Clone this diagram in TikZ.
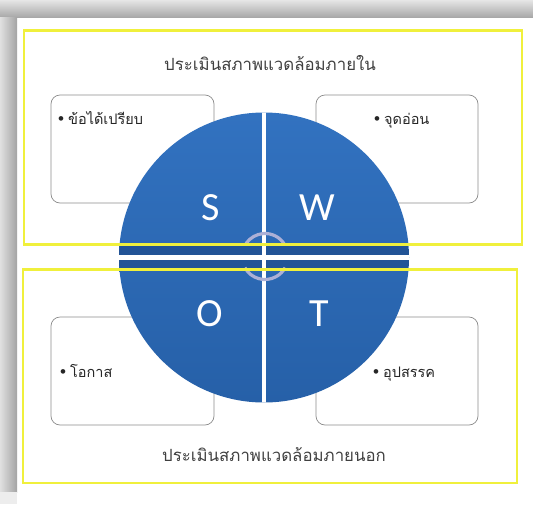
\documentclass[tikz,border=0pt]{standalone}
\usepackage{fontspec}
\setmainfont{Liberation Sans}
\newfontfamily\thaifont[Script=Thai]{Loma}
\newfontfamily\letfont{Carlito}
\newfontfamily\bulfont{Liberation Sans}
\definecolor{pietop}{RGB}{50,114,192}
\definecolor{piebot}{RGB}{38,96,168}
\definecolor{piedark}{RGB}{34,84,150}
\definecolor{frameyel}{RGB}{240,240,60}
\definecolor{ringcol}{RGB}{172,176,214}
\definecolor{boxgray}{RGB}{140,140,140}
\newcommand{\bulx}{{\bulfont\fontsize{17}{14}\selectfont\char"2022}\hspace{4pt}}
\begin{document}
\begin{tikzpicture}[x=1pt,y=-1pt,
  yelframe/.style={draw=frameyel,line width=2.6pt},
  txtbox/.style={draw=boxgray,line width=0.7pt,fill=white,rounded corners=9pt},
  ttl/.style={font=\thaifont\fontsize{16.8}{18}\selectfont,text=black!75,inner sep=0pt},
  itm/.style={font=\thaifont\fontsize{14.5}{16}\selectfont,text=black!85,inner sep=0pt},
  letr/.style={font=\letfont\fontsize{40}{44}\selectfont,text=white,inner sep=0pt}]
\useasboundingbox (0,0) rectangle (533,504);
% frame / shadow
\fill[white] (0,0) rectangle (533,504);
\shade[top color=black!10,bottom color=black!34] (0,0) rectangle (533,17);
\shade[left color=black!12,right color=black!36] (0,17) rectangle (17,492);
\fill[black!7] (0,492) rectangle (17,504);
% text boxes (behind pie)
\node[txtbox,inner sep=0pt,minimum width=163pt,minimum height=108pt] (bS) at (132.5,149) {};
\node[txtbox,inner sep=0pt,minimum width=162pt,minimum height=108pt] (bW) at (397,149) {};
\node[txtbox,inner sep=0pt,minimum width=163pt,minimum height=108pt] (bO) at (132.5,371) {};
\node[txtbox,inner sep=0pt,minimum width=162pt,minimum height=108pt] (bT) at (397,371) {};
% pie
\coordinate (pc) at (264,257.5);
\begin{scope}
  \clip (pc) circle [radius=145pt];
  \shade[top color=pietop,bottom color=piebot] (119,112) rectangle (409,403);
  \fill[piedark] (119,246) rectangle (409,269);
  \fill[white] (262,110) rectangle (266,405);
  \fill[white] (115,255) rectangle (412,260);
\end{scope}
% ring
\coordinate (rc) at (265,256.5);
\draw[ringcol,line width=3.2pt] (rc) ++(34:23pt) arc[start angle=34,end angle=146,radius=23pt];
\draw[ringcol,line width=3.2pt] (rc) ++(209:23pt) arc[start angle=209,end angle=331,radius=23pt];
% yellow frames
\draw[yelframe] (24,30.5) rectangle (522,244.5);
\draw[yelframe] (23,269.5) rectangle (517,483);
% letters
\node[letr] (S) at (211,207.5) {S};
\node[letr] (W) at (317,207.5) {W};
\node[letr] (O) at (210,314) {O};
\node[letr] (T) at (319,314) {T};
% titles
\node[ttl,anchor=base] (tin) at (270,70) {ประเมินสภาพแวดล้อมภายใน};
\node[ttl,anchor=base] (tout) at (274,461) {ประเมินสภาพแวดล้อมภายนอก};
% items
\node[itm,anchor=base west] (iS) at (58,124) {\bulx ข้อได้เปรียบ};
\node[itm,anchor=base west] (iW) at (374,124) {\bulx จุดอ่อน};
\node[itm,anchor=base west] (iO) at (60,377) {\bulx โอกาส};
\node[itm,anchor=base west] (iT) at (373,377) {\bulx อุปสรรค};
\end{tikzpicture}
\end{document}
